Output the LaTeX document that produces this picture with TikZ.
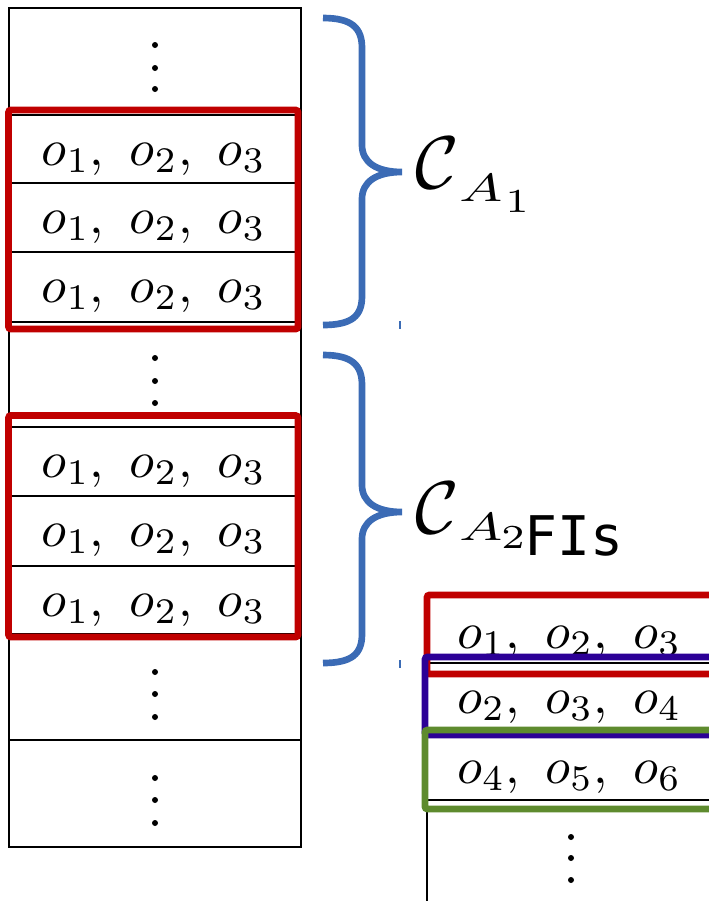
\documentclass[tikz,border=0pt]{standalone}
\usepackage{graphicx}
\usepackage{fix-cm}
\usepackage{fontspec}
\newfontfamily\fismono{DejaVu Sans Mono}
\definecolor{bred}{HTML}{C00000}
\definecolor{bblue}{HTML}{3B6BB5}
\definecolor{bpurple}{HTML}{2C0096}
\definecolor{bgreen}{HTML}{5E8B2E}
\newcommand{\rowo}[3]{\scalebox{3.86}{$o_{#1},\ o_{#2},\ o_{#3}$}}
\begin{document}
\begin{tikzpicture}[x=0.75pt,y=-0.75pt,
  rowtxt/.style={anchor=base,inner sep=0pt},
  lbl/.style={anchor=base west,inner sep=0pt},
  tbl/.style={line width=1.5pt,black},
  sep/.style={line width=1.2pt,black},
  hbox/.style={line width=5.2pt,rounded corners=2pt},
  brace/.style={line width=5pt,bblue},
  dotm/.style={circle,fill=black,inner sep=0pt,minimum size=4.5pt}]
\clip (0,0) rectangle (709,901);
% left table
\draw[tbl] (9,8) rectangle (301,847);
\foreach \y in {115,183,252,322,427,496,566,634,740}
  \draw[sep] (9,\y) -- (301,\y);
\foreach \y [count=\i] in {45,68,89,358,381,403,672,694,717,778,800,823}
  \node[dotm] (ld\i) at (155,\y) {};
\node[rowtxt] (l1) at (154,165) {\rowo123};
\node[rowtxt] (l2) at (154,233) {\rowo123};
\node[rowtxt] (l3) at (154,302) {\rowo123};
\node[rowtxt] (l4) at (154,477) {\rowo123};
\node[rowtxt] (l5) at (154,546) {\rowo123};
\node[rowtxt] (l6) at (154,616) {\rowo123};
\draw[hbox,bred] (8.5,110) rectangle (298,329);
\draw[hbox,bred] (8.5,415.5) rectangle (298,637);
% braces
\draw[brace] (323,18) .. controls (352,18) and (362,28) .. (362,48) -- (362,145)
  .. controls (362,162) and (376,172) .. (402,172)
  .. controls (376,172) and (362,182) .. (362,199) -- (362,296)
  .. controls (362,316) and (352,325) .. (323,325);
\draw[brace] (323,355) .. controls (352,355) and (362,365) .. (362,385) -- (362,485)
  .. controls (362,502) and (376,512) .. (402,512)
  .. controls (376,512) and (362,522) .. (362,539) -- (362,634)
  .. controls (362,654) and (352,663) .. (323,663);
\draw[bblue,line width=1.2pt] (400,321) -- (400,329);
\draw[bblue,line width=1.2pt] (400,660) -- (400,668);
% labels
\node[lbl] (ca1c) at (415,188) {\scalebox{5.6}{$\mathcal{C}$}};
\node[lbl] (ca1a) at (459,201) {\scalebox{4.3}[2.95]{$A$}};
\node[lbl] (ca1s) at (505,212) {\scalebox{4.4}[3.6]{$\scriptstyle 1$}};
\node[lbl] (ca2c) at (415,533) {\scalebox{5.6}{$\mathcal{C}$}};
\node[lbl] (ca2a) at (459,540) {\scalebox{4.3}[2.95]{$A$}};
\node[lbl] (ca2s) at (501,548) {\scalebox{4.4}[3.6]{$\scriptstyle 2$}};
\node[lbl,font=\fismono\fontsize{41}{43}\selectfont] (fis) at (524,555) {FIs};
% right table
\draw[tbl] (427,809) -- (427,901);
\foreach \y in {663,800}
  \draw[sep] (427,\y) -- (709,\y);
\node[rowtxt] (r1) at (569.5,648) {\rowo123};
\node[rowtxt] (r2) at (569.5,713) {\rowo234};
\node[rowtxt] (r3) at (569.5,783) {\rowo456};
\foreach \y [count=\i] in {837,858,880}
  \node[dotm] (rd\i) at (571,\y) {};
\draw[hbox,bred] (740,674) -- (427,674) -- (427,595) -- (740,595);
\draw[hbox,bpurple] (740,735) -- (425,735) -- (425,657) -- (740,657);
\draw[hbox,bgreen] (740,809) -- (425,809) -- (425,730) -- (740,730);
\end{tikzpicture}
\end{document}
